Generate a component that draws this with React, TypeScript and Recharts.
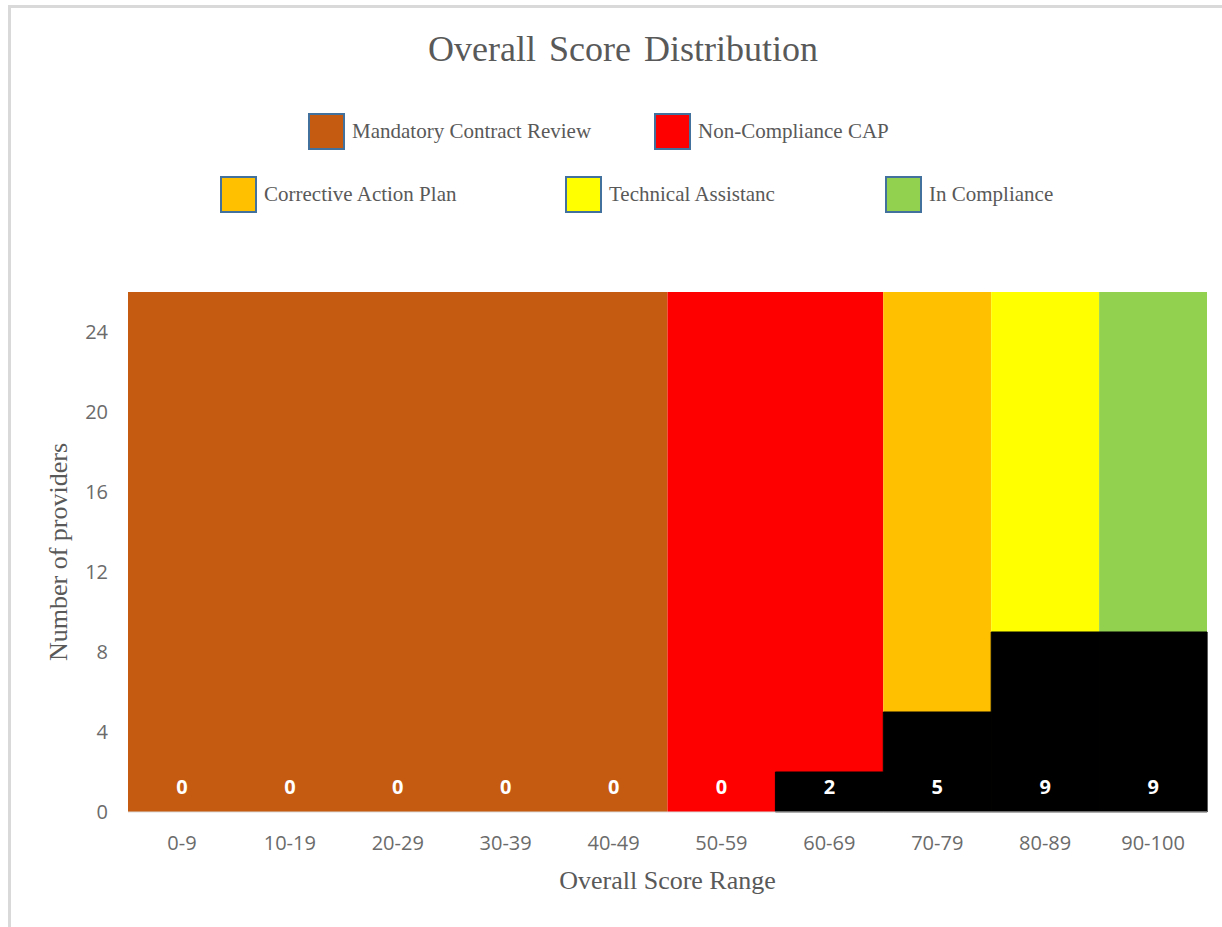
import React from "react";
import { Bar, BarChart, LabelList, Legend, Rectangle, ReferenceArea, XAxis, YAxis } from "recharts";

const ranges = ["0-9", "10-19", "20-29", "30-39", "40-49", "50-59", "60-69", "70-79", "80-89", "90-100"];
const providerCounts = [0, 0, 0, 0, 0, 0, 2, 5, 9, 9];
const yTicks = [0, 4, 8, 12, 16, 20, 24];
const yMax = 26;

// score bands shown behind the bars
const zoneNames = ["Mandatory Contract Review", "Non-Compliance CAP", "Corrective Action Plan", "Technical Assistanc", "In Compliance"];
const zoneColors = ["#C55A11", "#FF0000", "#FFC000", "#FFFF00", "#92D050"];
const zoneStart = ["0-9", "50-59", "70-79", "80-89", "90-100"];
const zoneEnd = ["40-49", "60-69", "70-79", "80-89", "90-100"];

const data = ranges.map((range, i) => ({ range, count: providerCounts[i] }));

const serif = "'Liberation Serif', 'Times New Roman', serif";
const sans = "'Open Sans', 'Noto Sans', sans-serif";

// legend slot placement (left px, top px) in the 2-row Excel layout
const legendSlots = [
    { left: 308, top: 113 },
    { left: 654, top: 113 },
    { left: 220, top: 176 },
    { left: 565, top: 176 },
    { left: 885, top: 176 },
];

function ZoneLegend() {
    return (
        <div style={{ position: "relative", width: 1222, height: 0 }}>
            {zoneNames.map((name, i) => (
                <div
                    key={name}
                    style={{
                        position: "absolute",
                        left: legendSlots[i].left,
                        top: legendSlots[i].top,
                        display: "flex",
                        alignItems: "center",
                        whiteSpace: "nowrap",
                    }}
                >
                    <span
                        style={{
                            display: "inline-block",
                            width: 33,
                            height: 33,
                            background: zoneColors[i],
                            border: "2.5px solid #41719C",
                            marginRight: 7,
                        }}
                    />
                    <span style={{ fontFamily: serif, fontSize: 21, color: "#595959" }}>{name}</span>
                </div>
            ))}
        </div>
    );
}

function CountLabel(props: any) {
    const { x, y, width, height, value } = props;
    return (
        <text
            x={x + width / 2}
            y={y + height - 18}
            textAnchor="middle"
            fill="#ffffff"
            fontFamily={sans}
            fontWeight={700}
            fontSize={20}
        >
            {value}
        </text>
    );
}

// zero-count bars keep their label but draw no rectangle
function CountBar(props: any) {
    if (!props.payload || props.payload.count <= 0) return <g />;
    return <Rectangle {...props} fill="#000000" stroke="#000000" strokeWidth={1} />;
}

export default function App() {
    return (
        <div style={{ position: "absolute", left: 0, top: 0, width: 1222, height: 927, background: "#fff" }}>
            <div
                style={{
                    position: "absolute",
                    left: 8,
                    top: 5,
                    width: 1214,
                    height: 922,
                    borderLeft: "3px solid #d9d9d9",
                    borderTop: "3px solid #d9d9d9",
                }}
            />
            <div
                style={{
                    position: "absolute",
                    left: 0,
                    top: 28,
                    width: 1246,
                    textAlign: "center",
                    fontFamily: serif,
                    fontSize: 36,
                    wordSpacing: 4,
                    color: "#595959",
                }}
            >
                Overall Score Distribution
            </div>
            <div style={{ position: "absolute", left: 0, top: 0 }}>
                <BarChart
                    width={1222}
                    height={927}
                    data={data}
                    margin={{ top: 292, right: 15, bottom: 0, left: 0 }}
                    barCategoryGap={0}
                >
                    <Legend
                        content={() => <ZoneLegend />}
                        verticalAlign="top"
                        wrapperStyle={{ top: 0, left: 0, width: 1222, height: 0 }}
                    />
                    <XAxis
                        dataKey="range"
                        tickLine={false}
                        axisLine={{ stroke: "#d9d9d9" }}
                        tickMargin={18}
                        tick={{ fill: "#6b6b6b", fontFamily: sans, fontSize: 20 }}
                        interval={0}
                        label={{
                            value: "Overall Score Range",
                            position: "insideBottom",
                            offset: 38,
                            fill: "#595959",
                            fontFamily: serif,
                            fontSize: 26,
                        }}
                        height={115}
                    />
                    <YAxis
                        domain={[0, yMax]}
                        ticks={yTicks}
                        width={128}
                        tickLine={false}
                        axisLine={false}
                        tickMargin={14}
                        tick={{ fill: "#6b6b6b", fontFamily: sans, fontSize: 20 }}
                        label={{
                            value: "Number of providers",
                            angle: -90,
                            position: "insideLeft",
                            offset: 58,
                            style: { textAnchor: "middle" },
                            fill: "#595959",
                            fontFamily: serif,
                            fontSize: 26,
                        }}
                    />
                    {zoneNames.map((name, i) => (
                        <ReferenceArea
                            key={name}
                            x1={zoneStart[i]}
                            x2={zoneEnd[i]}
                            y1={0}
                            y2={yMax}
                            fill={zoneColors[i]}
                            fillOpacity={1}
                            stroke="none"
                            ifOverflow="visible"
                        />
                    ))}
                    <Bar dataKey="count" fill="#000000" minPointSize={1} shape={CountBar} isAnimationActive={false}>
                        <LabelList dataKey="count" content={CountLabel} />
                    </Bar>
                </BarChart>
            </div>
        </div>
    );
}
